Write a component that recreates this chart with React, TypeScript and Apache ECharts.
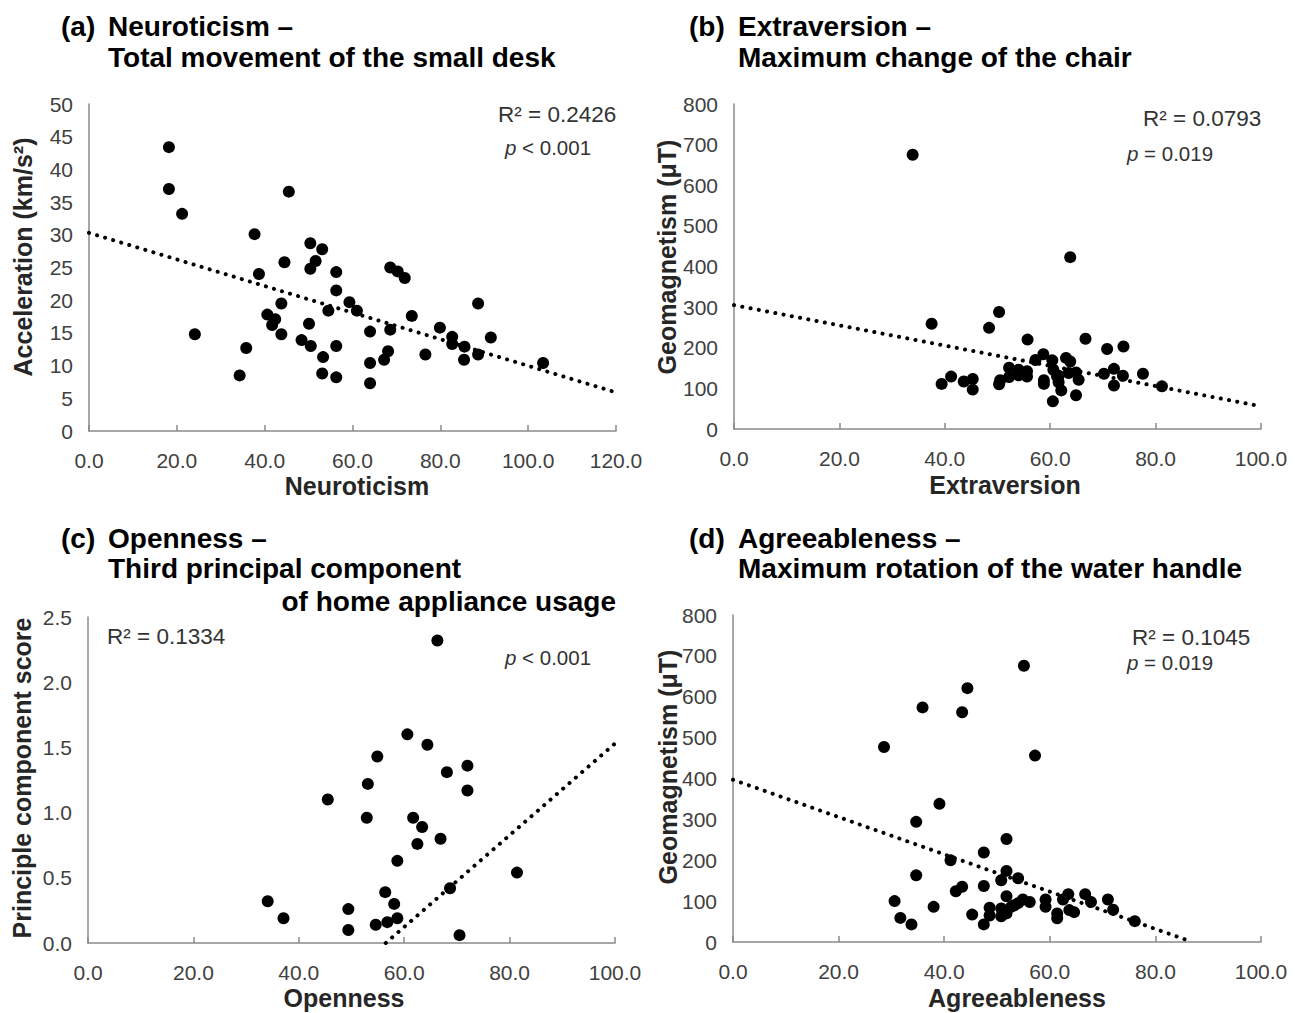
import React, { useEffect, useRef } from "react";
import * as echarts from "echarts";

// (a) Neuroticism vs acceleration (km/s²)
const neuroticismData: number[][] = [
  [18.2, 43.4], [18.2, 37.0], [21.2, 33.2], [24.1, 14.8], [34.3, 8.5], [35.8, 12.7],
  [37.7, 30.1], [38.7, 24.0], [40.6, 17.8], [42.4, 17.1], [41.7, 16.2], [43.8, 19.5],
  [43.8, 14.8], [44.5, 25.8], [45.5, 36.6], [48.4, 13.9], [50.1, 16.4], [50.5, 13.0],
  [50.4, 28.7], [50.4, 24.8], [51.6, 26.0], [53.1, 27.8], [53.3, 11.3], [53.1, 8.8],
  [54.5, 18.4], [56.3, 24.3], [56.3, 21.5], [59.3, 19.7], [61.0, 18.4], [56.3, 13.0],
  [56.3, 8.2], [64.0, 15.2], [64.0, 10.4], [64.0, 7.3], [67.2, 10.9], [68.1, 12.2],
  [68.6, 15.5], [68.6, 25.0], [70.3, 24.4], [71.9, 23.4], [73.5, 17.6], [76.6, 11.7],
  [79.9, 15.8], [82.7, 14.4], [82.7, 13.3], [85.5, 12.9], [85.4, 10.9], [88.6, 19.5],
  [88.6, 11.7], [91.5, 14.3], [103.4, 10.4],
];
const trendA: number[][] = [[0, 30.3], [120, 5.9]];

// (b) Extraversion vs geomagnetism (µT)
const extraversionData: number[][] = [
  [33.9, 675], [37.5, 259], [39.4, 111], [41.2, 129], [43.6, 117], [45.3, 123], [45.3, 97],
  [48.4, 249], [50.3, 288], [50.3, 110], [50.5, 120], [52.2, 151], [52.2, 128], [54.0, 146],
  [54.0, 132], [55.6, 142], [55.6, 129], [55.7, 220], [57.2, 170], [58.7, 184], [58.8, 120],
  [58.8, 111], [60.4, 169], [60.6, 146], [60.5, 68], [61.3, 129], [61.6, 115], [62.1, 95],
  [61.6, 131], [63.0, 175], [63.8, 166], [63.8, 423], [63.5, 138], [64.9, 139], [65.4, 121],
  [64.9, 83], [66.7, 222], [70.2, 136], [70.8, 197], [72.1, 148], [72.1, 107], [73.8, 131],
  [73.9, 203], [77.6, 136], [81.2, 105],
];
const trendB: number[][] = [[0, 305], [100, 56]];

// (c) Openness vs principal component score
const opennessData: number[][] = [
  [34.1, 0.32], [37.1, 0.19], [45.5, 1.10], [49.4, 0.26], [49.4, 0.10], [52.9, 0.96],
  [53.1, 1.22], [54.9, 1.43], [54.6, 0.14], [56.4, 0.39], [56.8, 0.16], [58.1, 0.30],
  [58.7, 0.19], [58.7, 0.63], [60.6, 1.60], [61.7, 0.96], [62.5, 0.76], [63.4, 0.89],
  [64.4, 1.52], [66.3, 2.32], [66.9, 0.80], [68.1, 1.31], [68.7, 0.42], [70.5, 0.06],
  [72.0, 1.36], [72.0, 1.17], [81.4, 0.54],
];
const trendC: number[][] = [[56.5, 0], [100, 1.53]];

// (d) Agreeableness vs geomagnetism (µT)
const agreeablenessData: number[][] = [
  [28.6, 477], [30.6, 100], [31.7, 59], [33.8, 43], [34.7, 294], [34.7, 163], [35.9, 574],
  [38.0, 86], [39.1, 338], [41.2, 200], [42.2, 124], [43.4, 135], [43.4, 562], [44.4, 621],
  [45.3, 67], [47.5, 219], [47.5, 137], [47.5, 43], [48.6, 84], [48.6, 65], [50.8, 82],
  [50.8, 63], [50.8, 151], [51.8, 252], [51.8, 174], [51.8, 112], [51.8, 70], [52.7, 86],
  [53.3, 90], [54.0, 156], [54.0, 95], [54.9, 104], [56.2, 98], [55.1, 676], [57.2, 456],
  [59.2, 104], [59.2, 86], [61.4, 70], [61.4, 58], [62.5, 104], [63.5, 117], [63.7, 78],
  [64.6, 73], [66.7, 117], [67.8, 98], [71.0, 104], [72.0, 79], [76.1, 51],
];
const trendD: number[][] = [[0, 397], [87, 0]];

const FONT = "Liberation Sans";
const AXIS_COLOR = "#8a8a8a";
const LABEL_COLOR = "#404040";

function xAx(gridIndex: number, max: number) {
  return {
    type: "value",
    gridIndex,
    min: 0,
    max,
    interval: 20,
    axisLine: { show: true, lineStyle: { color: AXIS_COLOR, width: 1.5 } },
    axisTick: { show: true, inside: true, length: 6, lineStyle: { color: AXIS_COLOR, width: 1.5 } },
    axisLabel: {
      formatter: (v: number) => v.toFixed(1),
      fontSize: 21,
      color: LABEL_COLOR,
      margin: 19,
      fontFamily: FONT,
    },
    splitLine: { show: false },
  };
}

function yAx(gridIndex: number, max: number, interval: number, decimals: number) {
  return {
    type: "value",
    gridIndex,
    min: 0,
    max,
    interval,
    axisLine: { show: true, lineStyle: { color: AXIS_COLOR, width: 1.5 } },
    axisTick: { show: false },
    axisLabel: {
      formatter: (v: number) => v.toFixed(decimals),
      fontSize: 21,
      color: LABEL_COLOR,
      margin: 16,
      fontFamily: FONT,
    },
    splitLine: { show: false },
  };
}

function scatter(i: number, data: number[][]) {
  return {
    type: "scatter",
    xAxisIndex: i,
    yAxisIndex: i,
    data,
    symbolSize: 12,
    itemStyle: { color: "#000", opacity: 1 },
  };
}

function trend(i: number, data: number[][]) {
  return {
    type: "line",
    xAxisIndex: i,
    yAxisIndex: i,
    data,
    symbol: "none",
    lineStyle: { color: "#000", width: 4, type: [0.1, 8.3], cap: "round" },
  };
}

function txt(text: string, x: number, y: number, size: number, opts: any = {}) {
  return {
    type: "text",
    x,
    y,
    rotation: opts.rotation || 0,
    style: {
      text,
      fontSize: size,
      fontWeight: opts.bold ? "bold" : "normal",
      fontFamily: FONT,
      fill: opts.color || "#000",
      align: opts.align || "left",
      verticalAlign: "middle",
      rich: opts.rich,
    },
  };
}

function pText(text: string, x: number, y: number) {
  const rich = {
    i: { fontStyle: "italic", fontSize: 20.5, fontFamily: FONT, fill: "#333" },
    n: { fontSize: 20.5, fontFamily: FONT, fill: "#333" },
  };
  return txt("{i|p}{n|" + text + "}", x, y, 20.5, { color: "#333", rich });
}

const titleSize = 28;
const nameSize = 25;
const rSize = 22.5;
const NAME_COLOR = "#262626";

const graphics = [
  // titles
  txt("(a)", 61, 26, titleSize, { bold: true }),
  txt("Neuroticism –", 108, 26, titleSize, { bold: true }),
  txt("Total movement of the small desk", 108, 57, titleSize, { bold: true }),
  txt("(b)", 689, 26, titleSize, { bold: true }),
  txt("Extraversion –", 738, 26, titleSize, { bold: true }),
  txt("Maximum change of the chair", 738, 57, titleSize, { bold: true }),
  txt("(c)", 61, 538, titleSize, { bold: true }),
  txt("Openness –", 108, 538, titleSize, { bold: true }),
  txt("Third principal component", 108, 568, titleSize, { bold: true }),
  txt("of home appliance usage", 616, 601, titleSize, { bold: true, align: "right" }),
  txt("(d)", 689, 538, titleSize, { bold: true }),
  txt("Agreeableness –", 738, 538, titleSize, { bold: true }),
  txt("Maximum rotation of the water handle", 738, 568, titleSize, { bold: true }),
  // axis names
  txt("Neuroticism", 357, 486, nameSize, { bold: true, align: "center", color: NAME_COLOR }),
  txt("Extraversion", 1005, 485, nameSize, { bold: true, align: "center", color: NAME_COLOR }),
  txt("Openness", 344, 998, nameSize, { bold: true, align: "center", color: NAME_COLOR }),
  txt("Agreeableness", 1017, 998, nameSize, { bold: true, align: "center", color: NAME_COLOR }),
  txt("Acceleration (km/s²)", 23, 257, nameSize, { bold: true, align: "center", color: NAME_COLOR, rotation: Math.PI / 2 }),
  txt("Geomagnetism (μT)", 667, 257, nameSize, { bold: true, align: "center", color: NAME_COLOR, rotation: Math.PI / 2 }),
  txt("Principle component score", 22, 778, nameSize, { bold: true, align: "center", color: NAME_COLOR, rotation: Math.PI / 2 }),
  txt("Geomagnetism (μT)", 668, 767, nameSize, { bold: true, align: "center", color: NAME_COLOR, rotation: Math.PI / 2 }),
  // statistics
  txt("R² = 0.2426", 498, 114, rSize, { color: "#333" }),
  pText(" < 0.001", 505, 147),
  txt("R² = 0.0793", 1143, 118, rSize, { color: "#333" }),
  pText(" = 0.019", 1127, 153),
  txt("R² = 0.1334", 107, 636, rSize, { color: "#333" }),
  pText(" < 0.001", 505, 657),
  txt("R² = 0.1045", 1132, 637, rSize, { color: "#333" }),
  pText(" = 0.019", 1127, 662),
];

const option = {
  animation: false,
  backgroundColor: "#fff",
  grid: [
    { left: 89, top: 104, width: 527, height: 327 },
    { left: 734, top: 104, width: 527, height: 325 },
    { left: 88, top: 617, width: 527, height: 326 },
    { left: 733, top: 615, width: 528, height: 327 },
  ],
  xAxis: [xAx(0, 120), xAx(1, 100), xAx(2, 100), xAx(3, 100)],
  yAxis: [yAx(0, 50, 5, 0), yAx(1, 800, 100, 0), yAx(2, 2.5, 0.5, 1), yAx(3, 800, 100, 0)],
  series: [
    scatter(0, neuroticismData),
    trend(0, trendA),
    scatter(1, extraversionData),
    trend(1, trendB),
    scatter(2, opennessData),
    trend(2, trendC),
    scatter(3, agreeablenessData),
    trend(3, trendD),
  ],
  graphic: graphics,
};

export default function App() {
  const ref = useRef<HTMLDivElement>(null);
  useEffect(() => {
    const chart = echarts.init(ref.current, null, { renderer: "svg" });
    chart.setOption(option as any);
    return () => chart.dispose();
  }, []);
  return (
    <div
      ref={ref}
      style={{ position: "fixed", left: 0, top: 0, width: 1299, height: 1013, background: "#fff" }}
    />
  );
}
